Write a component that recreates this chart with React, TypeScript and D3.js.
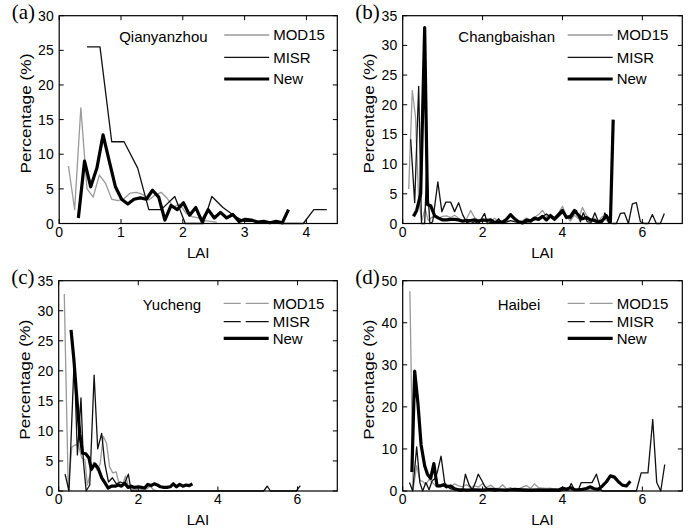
import React from "react";
import * as d3 from "d3";

// ---------- data ----------
const SERIES_NAMES = ["MOD15", "MISR", "New"];

// (a) Qianyanzhou
const A_MOD_X = [0.15,0.25,0.35,0.45,0.55,0.65,0.75,0.85,0.95,1.05,1.15,1.25,1.35,1.45,1.55,1.65,1.75,1.85,1.95,2.05,2.15,2.25,2.35,2.45,2.55];
const A_MOD_Y = [8.3,2.0,16.7,5.0,3.8,7.0,5.8,3.5,3.3,3.6,4.4,4.5,4.2,3.4,4.1,4.5,3.6,2.4,2.8,1.5,1.0,0.8,0.4,0.3,0.2];
const A_MISR_X = [0.45,0.66,0.85,1.05,1.27,1.45,1.65,1.87,2.04,2.33,2.47,2.65,2.85,3.0,3.2,3.4,3.6,3.8,3.95,4.12,4.33];
const A_MISR_Y = [25.5,25.5,11.8,11.8,8.0,2.0,2.0,3.9,0,0,3.9,2.3,1.0,0.3,0.3,0.1,0,0,0,2.0,2.0];
const A_NEW_X = [0.31,0.41,0.51,0.61,0.71,0.81,0.91,1.01,1.11,1.21,1.31,1.41,1.51,1.61,1.71,1.81,1.91,2.01,2.11,2.21,2.31,2.41,2.51,2.61,2.71,2.81,2.91,3.01,3.11,3.21,3.31,3.41,3.51,3.61,3.71];
const A_NEW_Y = [0.8,9.0,5.3,8.0,12.8,9.0,5.3,3.5,2.8,3.5,3.7,3.5,4.8,3.8,0.5,2.6,2.0,3.0,1.2,2.3,0.3,2.0,0.8,1.6,0.8,1.3,0.3,0.6,0.5,0.2,0.3,0.1,0.3,0.1,2.0];

// (b) Changbaishan
const B_MOD_X = [0.15,0.24,0.32,0.40,0.48,0.56,0.64,0.72,0.8,0.9,1.0,1.1,1.2,1.3,1.4,1.5,1.6,1.7,1.8,1.9,2.0,2.1,2.2,2.3,2.4,2.5,2.6,2.7,2.8,2.9,3.0,3.1,3.2,3.3,3.4,3.5,3.6,3.7,3.8,3.9,4.0,4.1,4.2,4.3,4.4,4.5,4.6,4.7,4.8,4.9,5.0,5.1,5.2];
const B_MOD_Y = [5.8,22.4,18,4,0.5,2.5,0.5,1.0,1.2,0.9,1.2,1.3,1.0,1.4,0.9,0.4,0.8,2.2,1.0,0.5,0.3,0.8,0.4,0.9,0.3,0.5,0.8,1.2,0.6,0.3,0.5,0.9,0.6,1.0,1.5,2.2,1.2,1.6,0.8,1.7,2.9,1.2,0.4,1.4,0.8,2.7,1.4,0.6,0.9,0.4,1.2,0.5,0.2];
const B_MISR_X = [0.2,0.3,0.4,0.47,0.55,0.6,0.68,0.75,0.88,0.98,1.08,1.2,1.3,1.4,1.5,1.6,1.7,1.8,1.9,2.05,2.12,2.2,2.3,2.4,2.5,2.7,2.8,3.0,3.2,3.4,3.6,3.8,4.0,4.2,4.35,4.45,4.52,4.62,4.72,4.81,4.9,5.0,5.06,5.15,5.25,5.35,5.45,5.55,5.65,5.75,5.85,5.95,6.05,6.15,6.25,6.35,6.45,6.55];
const B_MISR_Y = [14.2,3.5,23.1,0,0,8.9,0,0.3,7.0,2.0,3.6,3.6,2.0,3.5,1.5,0.2,0,0.3,0,1.7,0,0.2,0,0.8,0,0.5,0.3,0,0.4,0.8,1.6,0.5,1.8,0.8,2.2,0.3,1.8,0.3,0.2,1.8,0.3,0.2,1.8,0.2,0,0,1.7,1.8,0,3.3,3.5,0.3,0,0,1.5,0,0,1.7];
const B_NEW_X = [0.27,0.35,0.45,0.55,0.62,0.7,0.8,0.9,1.0,1.1,1.2,1.3,1.4,1.5,1.6,1.7,1.8,1.9,2.0,2.1,2.2,2.3,2.4,2.5,2.6,2.7,2.8,2.9,3.0,3.1,3.2,3.3,3.4,3.5,3.6,3.7,3.8,3.9,4.0,4.1,4.2,4.3,4.4,4.5,4.6,4.7,4.8,4.9,5.0,5.1,5.2,5.27];
const B_NEW_Y = [1.2,2.2,5.0,33.0,3.2,3.0,1.3,0.9,0.6,0.6,0.7,0.7,0.6,0.4,0.5,0.5,0.6,0.4,0.6,0.5,0.6,0.2,0.3,0.2,0.7,1.5,0.8,0.3,0.1,0.6,0.4,0.9,0.7,1.2,0.6,1.3,0.8,1.5,2.2,1.0,1.2,2.2,1.4,0.8,1.0,0.6,0.5,0.2,0.5,1.3,0.3,17.5];

// (c) Yucheng
const C_MOD_X = [0.14,0.24,0.33,0.42,0.5,0.58,0.66,0.72,0.8,0.88,0.96,1.04,1.12,1.2,1.28,1.36,1.44,1.52,1.6,1.68,1.76,1.84,1.92,2.0,2.1,2.2,2.3,2.38,2.45];
const C_MOD_Y = [32.8,0.3,7.3,7.7,7.6,5.5,5.2,1.0,3.0,4.8,3.5,4.5,9.1,8.0,4.0,3.0,3.2,1.2,1.0,2.5,0.6,0.3,0.2,0.4,0.2,0.3,0.8,0.2,0.1];
const C_MISR_X = [0.16,0.26,0.39,0.47,0.56,0.62,0.69,0.78,0.89,0.98,1.08,1.16,1.25,1.35,1.45,1.55,1.65,1.75,1.82,2.5,3.5,4.5,5.15,5.24,5.32,5.97,6.07];
const C_MISR_Y = [2.8,0,22,6,15.5,5,0,1,19.3,7,9.6,4.5,1.5,2.2,1.2,1.5,1.2,2.8,0,0,0,0,0,0.8,0,0,0.9];
const C_NEW_X = [0.31,0.38,0.46,0.53,0.6,0.68,0.76,0.82,0.91,0.99,1.08,1.16,1.24,1.33,1.42,1.5,1.58,1.66,1.74,1.82,1.9,2.0,2.08,2.16,2.24,2.32,2.4,2.48,2.56,2.64,2.72,2.8,2.88,2.96,3.04,3.12,3.2,3.28,3.36];
const C_NEW_Y = [26.8,22,15,9.5,6.3,6.2,5.5,3.6,4.5,3.8,2.2,1.4,0.5,0.8,0.8,1.0,0.8,1.3,0.6,0.8,0.6,0.7,0.6,0.5,1.1,0.9,1.2,1.0,0.7,0.6,0.6,0.7,1.2,0.7,1.1,0.8,1.0,0.9,1.2];

// (d) Haibei
const D_MOD_X = [0.18,0.26,0.35,0.43,0.5,0.58,0.66,0.74,0.82,0.9,1.0,1.1,1.2,1.3,1.4,1.5,1.6,1.7,1.8,1.9,2.0,2.1,2.2,2.3,2.4,2.5,2.6,2.7,2.8,2.9,3.0,3.1,3.2,3.3,3.4,3.5,3.6,3.7,3.8,3.9,4.0,4.2,4.4,4.6,4.8,5.0];
const D_MOD_Y = [47.5,0.3,6,2.5,2.3,1.5,2.8,2.0,1.3,1.0,1.2,1.6,1.0,1.7,1.2,1.0,1.5,0.8,1.2,0.9,1.8,0.8,1.4,0.7,0.6,1.5,0.5,0.8,0.4,0.5,0.9,1.3,0.6,1.7,0.8,0.7,0.6,0.7,0.3,0.5,0.3,0.2,0.3,0.2,0.4,0.2];
const D_MISR_X = [0.17,0.25,0.35,0.43,0.5,0.58,0.66,0.74,0.82,0.88,0.96,1.05,1.12,1.2,1.3,1.4,1.5,1.57,1.66,1.74,1.82,1.89,1.98,2.06,2.15,2.3,2.5,3.0,3.5,3.95,4.05,4.15,4.22,4.3,4.4,4.47,4.6,4.74,4.85,4.96,5.0,5.85,5.97,6.14,6.26,6.36,6.46,6.56];
const D_MISR_Y = [2,0,10.5,2,0,2.0,0.3,2.5,3,5,8.3,2,1,0.5,0.3,0,0,4,1.5,0.2,2,4,2.5,1,0.3,0,0.2,0,0,0,0.3,0.3,1.8,0.3,0.3,2.0,2.0,2.0,4,0.3,0,0,4.3,4.3,17,2,0,6.3];
const D_NEW_X = [0.23,0.3,0.38,0.46,0.55,0.62,0.7,0.78,0.86,0.94,1.02,1.1,1.2,1.3,1.4,1.5,1.6,1.8,2.0,2.2,2.4,2.6,2.8,3.0,3.2,3.4,3.6,3.8,3.9,4.0,4.1,4.2,4.3,4.4,4.5,4.6,4.7,4.8,4.9,5.0,5.1,5.2,5.3,5.4,5.5,5.6,5.7];
const D_NEW_Y = [4.5,28.5,21,11,6,4,3,6.5,1.2,1.2,1.5,1.0,1.2,0.5,0.3,0.3,0.2,0.3,0.2,0.4,0.3,0.2,0.4,0.3,0.2,0.3,0.2,0.3,0.2,0.7,0.4,0.8,0.3,0.3,0.4,0.6,1.0,0.5,0.4,1.2,2.2,3.6,3.3,2.2,1.4,1.2,2.3];

const PANEL_LABELS = ["(a)", "(b)", "(c)", "(d)"];
const SITES = ["Qianyanzhou", "Changbaishan", "Yucheng", "Haibei"];
const X_MAX = [4.5, 7, 7, 7];
const Y_MAX = [30, 35, 35, 50];
const X_TICKS = [[0, 1, 2, 3, 4], [0, 2, 4, 6], [0, 2, 4, 6], [0, 2, 4, 6]];
const Y_TICKS = [
  [0, 5, 10, 15, 20, 25, 30],
  [0, 5, 10, 15, 20, 25, 30, 35],
  [0, 5, 10, 15, 20, 25, 30, 35],
  [0, 10, 20, 30, 40, 50],
];

const SERIES_X = [
  [A_MOD_X, A_MISR_X, A_NEW_X],
  [B_MOD_X, B_MISR_X, B_NEW_X],
  [C_MOD_X, C_MISR_X, C_NEW_X],
  [D_MOD_X, D_MISR_X, D_NEW_X],
];
const SERIES_Y = [
  [A_MOD_Y, A_MISR_Y, A_NEW_Y],
  [B_MOD_Y, B_MISR_Y, B_NEW_Y],
  [C_MOD_Y, C_MISR_Y, C_NEW_Y],
  [D_MOD_Y, D_MISR_Y, D_NEW_Y],
];

// ---------- layout ----------
const BOXES = [
  { left: 59.2, right: 337.3, top: 15.7, bottom: 223.5 },
  { left: 402.7, right: 682.3, top: 15.7, bottom: 223.5 },
  { left: 58.7, right: 337.3, top: 280.7, bottom: 491 },
  { left: 402.7, right: 682.3, top: 280.7, bottom: 491 },
];
const SITE_X = [60, 55.6, 84, 95];
const SITE_DY = [26, 26, 29.5, 29.5];
const LEGEND_ROWS = [
  [19.3, 41.6, 63.3],
  [19.3, 41.6, 63.3],
  [22.6, 41, 57.6],
  [22.6, 41, 57.6],
];
const DASHED_LEGEND = [false, false, true, true];

const STYLES = [
  { stroke: "#9a9a9a", width: 1.3 },
  { stroke: "#111", width: 1.3 },
  { stroke: "#000", width: 3.2 },
];

const SANS = "'Liberation Sans', Arial, Helvetica, sans-serif";
const SERIF = "'Liberation Serif', 'Times New Roman', serif";

function Panel({ i }: { i: number }) {
  const b = BOXES[i];
  const x = d3.scaleLinear().domain([0, X_MAX[i]]).range([b.left, b.right]);
  const y = d3.scaleLinear().domain([0, Y_MAX[i]]).range([b.bottom, b.top]);
  const tick = 4.5;
  const cy = (b.top + b.bottom) / 2 - 6;
  return (
    <g>
      <text x={b.left - 47.5} y={b.top + 2.8} fontFamily={SERIF} fontSize={21} fill="#000">
        {PANEL_LABELS[i]}
      </text>
      {SERIES_X[i].map((xs, s) => {
        const pts: [number, number][] = xs.map((xv, k) => [xv, SERIES_Y[i][s][k]]);
        const line = d3
          .line<[number, number]>()
          .x((d) => x(d[0]))
          .y((d) => y(d[1]));
        return (
          <path
            key={s}
            d={line(pts) || ""}
            fill="none"
            stroke={STYLES[s].stroke}
            strokeWidth={STYLES[s].width}
            strokeLinejoin="round"
            strokeLinecap="butt"
          />
        );
      })}
      <rect
        x={b.left}
        y={b.top}
        width={b.right - b.left}
        height={b.bottom - b.top}
        fill="none"
        stroke="#000"
        strokeWidth={1.2}
      />
      {X_TICKS[i].map((t) => (
        <g key={"x" + t}>
          <line x1={x(t)} x2={x(t)} y1={b.bottom} y2={b.bottom - tick} stroke="#000" strokeWidth={1} />
          <line x1={x(t)} x2={x(t)} y1={b.top} y2={b.top + tick} stroke="#000" strokeWidth={1} />
          <text x={x(t)} y={b.bottom + 13} textAnchor="middle" fontFamily={SANS} fontSize={14} fill="#000">
            {t}
          </text>
        </g>
      ))}
      {Y_TICKS[i].map((t) => (
        <g key={"y" + t}>
          <line x1={b.left} x2={b.left + tick} y1={y(t)} y2={y(t)} stroke="#000" strokeWidth={1} />
          <line x1={b.right} x2={b.right - tick} y1={y(t)} y2={y(t)} stroke="#000" strokeWidth={1} />
          <text
            x={b.left - 5.5}
            y={y(t)}
            dy="0.36em"
            textAnchor="end"
            fontFamily={SANS}
            fontSize={14}
            fill="#000"
          >
            {t}
          </text>
        </g>
      ))}
      <text x={(b.left + b.right) / 2} y={b.bottom + 34} textAnchor="middle" fontFamily={SANS} fontSize={15} fill="#000">
        LAI
      </text>
      <text
        transform={`translate(${b.left - 34},${cy}) rotate(-90)`}
        textAnchor="middle"
        dy="0.36em"
        fontFamily={SANS}
        fontSize={15.5}
        fill="#000"
        textLength={120}
        lengthAdjust="spacingAndGlyphs"
      >
        Percentage (%)
      </text>
      <text x={b.left + SITE_X[i]} y={b.top + SITE_DY[i]} fontFamily={SANS} fontSize={15} fill="#000">
        {SITES[i]}
      </text>
      {SERIES_NAMES.map((name, s) => {
        const ly = b.top + LEGEND_ROWS[i][s];
        return (
          <g key={name}>
            <line
              x1={b.left + 165}
              x2={b.left + 210}
              y1={ly}
              y2={ly}
              stroke={STYLES[s].stroke}
              strokeWidth={STYLES[s].width}
              strokeDasharray={DASHED_LEGEND[i] && s < 2 ? "17,5,40" : undefined}
            />
            <text x={b.left + 214} y={ly} dy="0.36em" fontFamily={SANS} fontSize={15} fill="#000">
              {name}
            </text>
          </g>
        );
      })}
    </g>
  );
}

export default function App() {
  return (
    <svg
      width={691}
      height={531}
      style={{ position: "absolute", left: 0, top: 0, background: "#fff" }}
    >
      <rect width={691} height={531} fill="#fff" />
      {[0, 1, 2, 3].map((i) => (
        <Panel key={i} i={i} />
      ))}
    </svg>
  );
}
